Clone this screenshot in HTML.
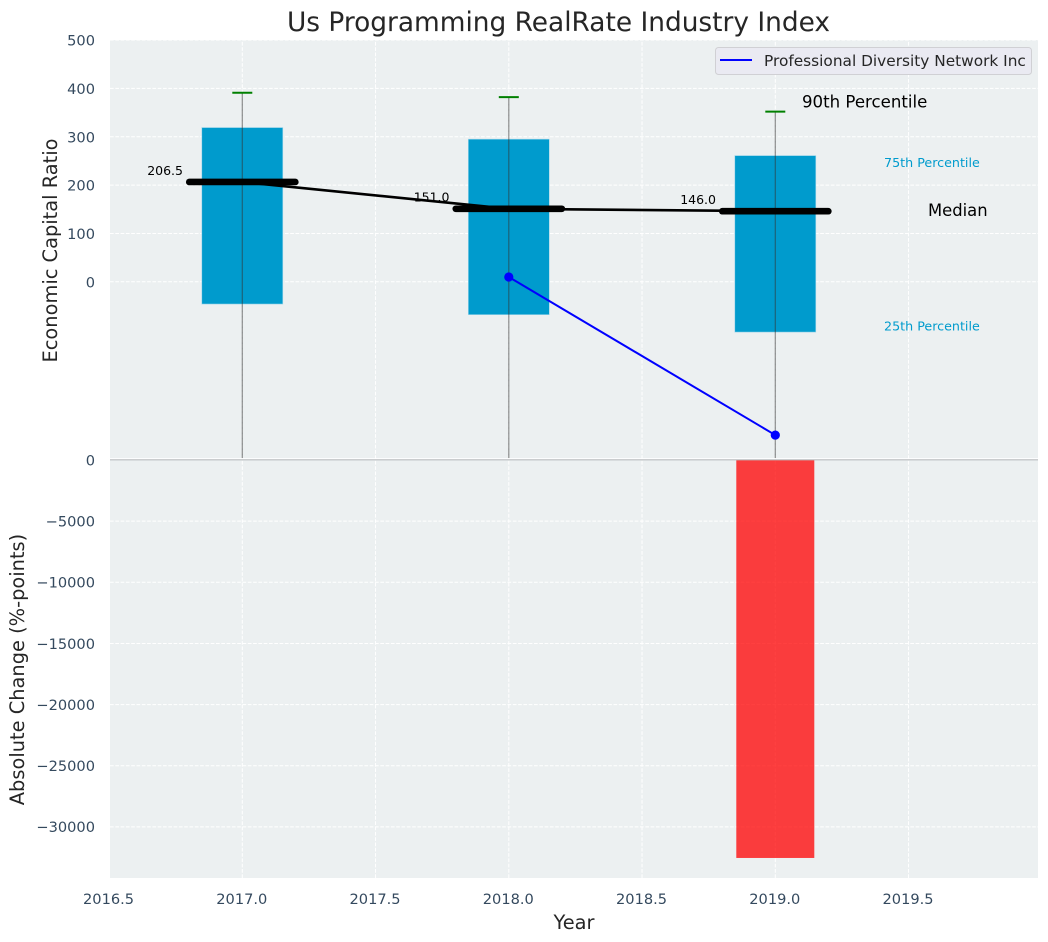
<!DOCTYPE html>
<html lang="en">
<head>
<meta charset="utf-8">
<title>Us Programming RealRate Industry Index</title>
<style>
html,body{margin:0;padding:0;background:#fff;}
#chart{display:block;position:absolute;left:0;top:0;}
text{font-family:"DejaVu Sans","Liberation Sans",sans-serif;}
</style>
</head>
<body>
<svg id="chart" width="1048" height="942" viewBox="0 0 1048 942" xmlns="http://www.w3.org/2000/svg"></svg>
<script>
const years = [2017, 2018, 2019];
const p90 = [391, 382, 352];
const p75 = [319, 295, 261];
const medians = [206.5, 151.0, 146.0];
const p25 = [-46, -68, -104];
const p10 = [-365, -365, -365];
const companyYears = [2018, 2019];
const companyValues = [10, -317];
const changeYears = [2019];
const changeValues = [-32540];
const xTicks = [2016.5, 2017.0, 2017.5, 2018.0, 2018.5, 2019.0, 2019.5];
const topTicks = [0, 100, 200, 300, 400, 500];
const bottomTicks = [0, -5000, -10000, -15000, -20000, -25000, -30000];
const companyName = 'Professional Diversity Network Inc';
const chartTitle = 'Us Programming RealRate Industry Index';

const svg = document.getElementById('chart');
const L = 110, R = 1038, TT = 40, TB = 459, BT = 460, BB = 878;
const tickColor = '#34495e';
const gridDash = '3.7 1.6';
const X = v => 242.3 + (v - 2017) * 266.5;
const YT = v => 281.8 - v * 0.4835;
const YB = v => 460 - v * 0.01223;

function add(tag, attrs, txt) {
  const el = document.createElementNS('http://www.w3.org/2000/svg', tag);
  for (const k in attrs) el.setAttribute(k, attrs[k]);
  if (txt !== undefined) el.textContent = txt;
  svg.appendChild(el);
  return el;
}
function fmt(v) { return String(v).replace('-', '\u2212'); }

let el;
el = add('rect', {x: L, y: TT, width: R - L, height: TB - TT, fill: '#ecf0f1'});


el = add('rect', {x: L, y: BT, width: R - L, height: BB - BT, fill: '#ecf0f1'});



xTicks.forEach(t => {
  const px = X(t);
  if (px > L) {
    el = add('line', {x1: px, x2: px, y1: TB, y2: TT, stroke: '#fff', 'stroke-width': 1, 'stroke-dasharray': gridDash});
    
    
    el = add('line', {x1: px, x2: px, y1: BB, y2: BT, stroke: '#fff', 'stroke-width': 1, 'stroke-dasharray': gridDash});
    
    
  }
  el = add('text', {x: px - 0.5, y: 904, 'text-anchor': 'middle', 'font-size': 14.6, fill: tickColor}, t.toFixed(1));
  
  
});

topTicks.forEach(t => {
  el = add('line', {x1: L, x2: R, y1: YT(t), y2: YT(t), stroke: '#fff', 'stroke-width': 1, 'stroke-dasharray': gridDash});
  
  
  el = add('text', {x: 95, y: YT(t) + 5.6, 'text-anchor': 'end', 'font-size': 14.6, fill: tickColor}, fmt(t));
  
  
});

bottomTicks.forEach(t => {
  if (t !== 0) {
    el = add('line', {x1: L, x2: R, y1: YB(t), y2: YB(t), stroke: '#fff', 'stroke-width': 1, 'stroke-dasharray': gridDash});
    
    
  }
  el = add('text', {x: 95, y: YB(t) + 5.3, 'text-anchor': 'end', 'font-size': 14.6, fill: tickColor}, fmt(t));
  
  
});

/* interquartile boxes */
years.forEach((yr, i) => {
  el = add('rect', {x: X(yr) - 40.5, y: YT(p75[i]), width: 81, height: YT(p25[i]) - YT(p75[i]), fill: '#009bcd', stroke: '#9fd6ea', 'stroke-width': 0.6});
  
  
});

/* whiskers */
years.forEach((yr, i) => {
  el = add('line', {x1: X(yr), x2: X(yr), y1: YT(p90[i]), y2: YT(p10[i]), stroke: '#333', 'stroke-opacity': 0.55, 'stroke-width': 1.2});
  
  
  el = add('line', {x1: X(yr) - 10, x2: X(yr) + 10, y1: YT(p90[i]), y2: YT(p90[i]), stroke: '#008000', 'stroke-width': 2});
  
  
});

/* median trend line */
el = add('polyline', {points: years.map((yr, i) => X(yr) + ',' + YT(medians[i])).join(' '), fill: 'none', stroke: '#000', 'stroke-width': 2.6});



/* median bars and labels */
years.forEach((yr, i) => {
  el = add('line', {x1: X(yr) - 53, x2: X(yr) + 53, y1: YT(medians[i]), y2: YT(medians[i]), stroke: '#000', 'stroke-width': 6.7, 'stroke-linecap': 'round'});
  
  
  el = add('text', {x: X(yr) - 59.3, y: YT(medians[i]) - 7.2, 'text-anchor': 'end', 'font-size': 12.5, fill: '#000'}, medians[i].toFixed(1));
  
  
});

/* company series */
el = add('polyline', {points: companyYears.map((yr, i) => X(yr) + ',' + YT(companyValues[i])).join(' '), fill: 'none', stroke: '#0000ff', 'stroke-width': 2});


companyYears.forEach((yr, i) => {
  el = add('circle', {cx: X(yr), cy: YT(companyValues[i]), r: 4.6, fill: '#0000ff'});
  
  
});

/* absolute change bars */
changeYears.forEach((yr, i) => {
  el = add('rect', {x: X(yr) - 39, y: YB(0), width: 78, height: YB(changeValues[i]) - YB(0), fill: '#ff0000', 'fill-opacity': 0.75});
  
  
});

/* zero separator */
el = add('line', {x1: L, x2: R, y1: 458.7, y2: 458.7, stroke: '#fff', 'stroke-width': 1.2});


el = add('line', {x1: L, x2: R, y1: 459.8, y2: 459.8, stroke: '#b8bcbd', 'stroke-width': 1.2});



/* percentile annotations tied to the last box */
const li = years.length - 1;
const lastX = X(years[li]);
el = add('text', {x: lastX + 26.7, y: YT(p90[li]) - 4, 'font-size': 16.6, fill: '#000'}, '90th Percentile');


el = add('text', {x: lastX + 108.7, y: YT(p75[li]) + 11.5, 'font-size': 12.7, fill: '#009bcd'}, '75th Percentile');


el = add('text', {x: lastX + 152.7, y: YT(medians[li]) + 5, 'font-size': 16.4, fill: '#000'}, 'Median');


el = add('text', {x: lastX + 108.7, y: YT(p25[li]) - 1.5, 'font-size': 12.7, fill: '#009bcd'}, '25th Percentile');



/* legend */
el = add('rect', {x: 715.5, y: 47.5, width: 316, height: 27, rx: 3, fill: '#eaeaf2', stroke: '#d0d0d4', 'stroke-width': 1});


el = add('line', {x1: 720, x2: 752, y1: 60, y2: 60, stroke: '#0000ff', 'stroke-width': 2});


el = add('text', {x: 764, y: 66, 'font-size': 15.35, fill: '#262626'}, companyName);



/* titles */
el = add('text', {x: 558.5, y: 31, 'text-anchor': 'middle', 'font-size': 26.4, fill: '#262626'}, chartTitle);


el = add('text', {x: 574, y: 929, 'text-anchor': 'middle', 'font-size': 19.4, fill: '#262626'}, 'Year');


el = add('text', {x: 0, y: 0, transform: 'translate(57 250.5) rotate(-90)', 'text-anchor': 'middle', 'font-size': 19.4, fill: '#262626'}, 'Economic Capital Ratio');


el = add('text', {x: 0, y: 0, transform: 'translate(24 669.5) rotate(-90)', 'text-anchor': 'middle', 'font-size': 19.4, fill: '#262626'}, 'Absolute Change (%-points)');


</script>
</body>
</html>
